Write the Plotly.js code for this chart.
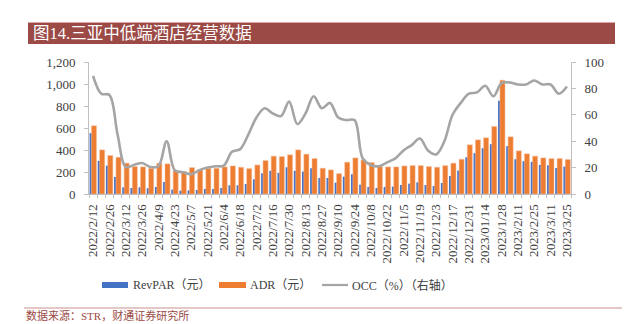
<!DOCTYPE html>
<html>
<head>
<meta charset="utf-8">
<script src="https://cdn.plot.ly/plotly-3.0.1.min.js"></script>
<style>
html,body{margin:0;padding:0;background:#fff;}
#chart{width:624px;height:324px;}
</style>
</head>
<body>
<div id="chart"></div>
<script>
// Weekly dates (labels as shown on the axis)
const dates = [
  "2022/2/12","2022/2/19","2022/2/26","2022/3/5","2022/3/12","2022/3/19","2022/3/26","2022/4/2",
  "2022/4/9","2022/4/16","2022/4/23","2022/4/30","2022/5/7","2022/5/14","2022/5/21","2022/5/28",
  "2022/6/4","2022/6/11","2022/6/18","2022/6/25","2022/7/2","2022/7/9","2022/7/16","2022/7/23",
  "2022/7/30","2022/8/6","2022/8/13","2022/8/20","2022/8/27","2022/9/3","2022/9/10","2022/9/17",
  "2022/9/24","2022/10/1","2022/10/8","2022/10/15","2022/10/22","2022/10/29","2022/11/5","2022/11/12",
  "2022/11/19","2022/11/26","2022/12/3","2022/12/10","2022/12/17","2022/12/24","2022/12/31","2023/1/7",
  "2023/01/14","2023/1/21","2023/1/28","2023/2/4","2023/2/11","2023/2/18","2023/2/25","2023/3/4",
  "2023/3/11","2023/3/18","2023/3/25"
];
// RevPAR (元)
const revpar = [553,301,258,155,61,55,61,52,64,109,
  40,30,33,36,46,46,55,79,79,91,
  134,188,210,192,243,210,204,234,146,146,
  103,158,179,85,64,55,64,67,82,94,
  106,82,73,100,164,213,334,371,416,453,
  848,435,316,298,292,264,261,237,249];
// ADR (元)
const adr = [620,401,350,334,280,249,246,234,280,274,
  213,204,240,219,234,234,246,255,243,231,
  264,304,344,340,356,401,362,322,234,219,
  185,289,328,310,286,249,246,246,255,258,
  258,249,243,258,280,316,447,492,511,614,
  1034,520,392,365,344,328,322,322,313];
// OCC (%)
const occ = [89.5,76,75,45,20.5,22,23.5,20.5,21,40,
  18,16.5,15,18,20,21,21.5,32,34,45,
  58,65,61,59,70,53,61,74,65,69,
  58,56,56,27,22,21,24,27,33,37,
  42,33,30,40,60,69,76,77,82,74,
  84,84.5,83,83,86,83,83,76,81.5];

const seriesNames = ["RevPAR（元）","ADR（元）","OCC（%）（右轴）"];
const titleText = "图14.三亚中低端酒店经营数据";
const sourceText = "数据来源：STR，财通证券研究所";

const idx = dates.map((d,i)=>i);
const tickIdx = idx.filter(i=>i%2===0);
const tickTxt = tickIdx.map(i=>dates[i]);

const W=624,H=324, L=89, R=571, T=62, B=194;
const px = x => (x-L)/(R-L);
const py = y => (B-y)/(B-T);

const FONT = "'Liberation Serif','Times New Roman','Noto Sans CJK SC',serif";
const BLUE="#4472C4", ORANGE="#ED7D31", GRAY="#A5A5A5", RED="#9B4A46";

const traces = [
  {type:'bar', x:idx, y:revpar, name:seriesNames[0], marker:{color:BLUE},
   offset:-0.43, width:0.6, hoverinfo:'skip'},
  {type:'bar', x:idx, y:adr, name:seriesNames[1], marker:{color:ORANGE, line:{color:'rgba(246,190,160,0.9)',width:0.6}},
   offset:-0.2, width:0.62, hoverinfo:'skip'},
  {type:'scatter', mode:'lines', x:idx, y:occ, yaxis:'y2', name:seriesNames[2],
   line:{color:GRAY, width:2.6, shape:'spline', smoothing:1}, hoverinfo:'skip'}
];

const annotations = [
  {xref:'paper',yref:'paper',x:px(31),y:py(33),xanchor:'left',yanchor:'middle',showarrow:false,
   text:titleText,font:{family:FONT,size:16.5,color:'#ffffff'}},
  {xref:'paper',yref:'paper',x:px(131),y:py(285),xanchor:'left',yanchor:'middle',showarrow:false,
   text:seriesNames[0],font:{family:FONT,size:12,color:'#404040'}},
  {xref:'paper',yref:'paper',x:px(248),y:py(285),xanchor:'left',yanchor:'middle',showarrow:false,
   text:seriesNames[1],font:{family:FONT,size:12,color:'#404040'}},
  {xref:'paper',yref:'paper',x:px(350),y:py(285),xanchor:'left',yanchor:'middle',showarrow:false,
   text:seriesNames[2],font:{family:FONT,size:12,color:'#404040'}},
  {xref:'paper',yref:'paper',x:px(24),y:py(324),xanchor:'left',yanchor:'bottom',showarrow:false,
   text:sourceText,font:{family:FONT,size:11,color:RED}}
];

const shapes = [
  {type:'rect',xref:'paper',yref:'paper',x0:px(28),x1:px(615),y0:py(44),y1:py(22),
   fillcolor:RED,line:{width:0},layer:'below'},
  {type:'line',xref:'paper',yref:'paper',x0:px(28),x1:px(615),y0:py(22.5),y1:py(22.5),
   line:{color:'#D9A8A5',width:1}},
  {type:'rect',xref:'paper',yref:'paper',x0:px(102),x1:px(128),y0:py(288),y1:py(282),
   fillcolor:BLUE,line:{width:0}},
  {type:'rect',xref:'paper',yref:'paper',x0:px(219),x1:px(246),y0:py(288),y1:py(282),
   fillcolor:ORANGE,line:{width:0}},
  {type:'line',xref:'paper',yref:'paper',x0:px(322),x1:px(348),y0:py(285),y1:py(285),
   line:{color:GRAY,width:2.2}},
  {type:'line',xref:'paper',yref:'paper',x0:px(24),x1:px(622),y0:py(308),y1:py(308),
   line:{color:'#C9908D',width:1}}
];

const layout = {
  width:W, height:H,
  margin:{l:L, r:W-R, t:T, b:H-B, pad:0},
  paper_bgcolor:'#fff', plot_bgcolor:'#fff',
  showlegend:false,
  barmode:'overlay',
  font:{family:FONT, size:13, color:'#404040'},
  xaxis:{type:'linear', range:[-0.5,58.5], tickmode:'array', tickvals:tickIdx, ticktext:tickTxt,
    tickangle:-90, ticks:'', showgrid:false, zeroline:false, showline:true, linecolor:'#BFBFBF', linewidth:1,
    tickfont:{family:FONT,size:13,color:'#404040'}, ticklabelstandoff:4,
    minor:{tickmode:'linear', tick0:0.5, dtick:1, ticks:'outside', ticklen:3, tickcolor:'#BFBFBF', showgrid:false}},
  yaxis:{range:[0,1200], dtick:200, tickformat:',d', showgrid:false, zeroline:false,
    showline:true, linecolor:'#BFBFBF', linewidth:1, ticks:'outside', ticklen:4, tickcolor:'#BFBFBF',
    tickfont:{family:FONT,size:13,color:'#404040'}, ticklabelstandoff:6},
  yaxis2:{range:[0,100], dtick:20, overlaying:'y', side:'right', showgrid:false, zeroline:false,
    showline:true, linecolor:'#BFBFBF', linewidth:1, ticks:'outside', ticklen:4, tickcolor:'#BFBFBF',
    tickfont:{family:FONT,size:13,color:'#404040'}, ticklabelstandoff:6},
  annotations:annotations,
  shapes:shapes
};

Plotly.newPlot('chart', traces, layout, {displayModeBar:false, staticPlot:true});
</script>
</body>
</html>
